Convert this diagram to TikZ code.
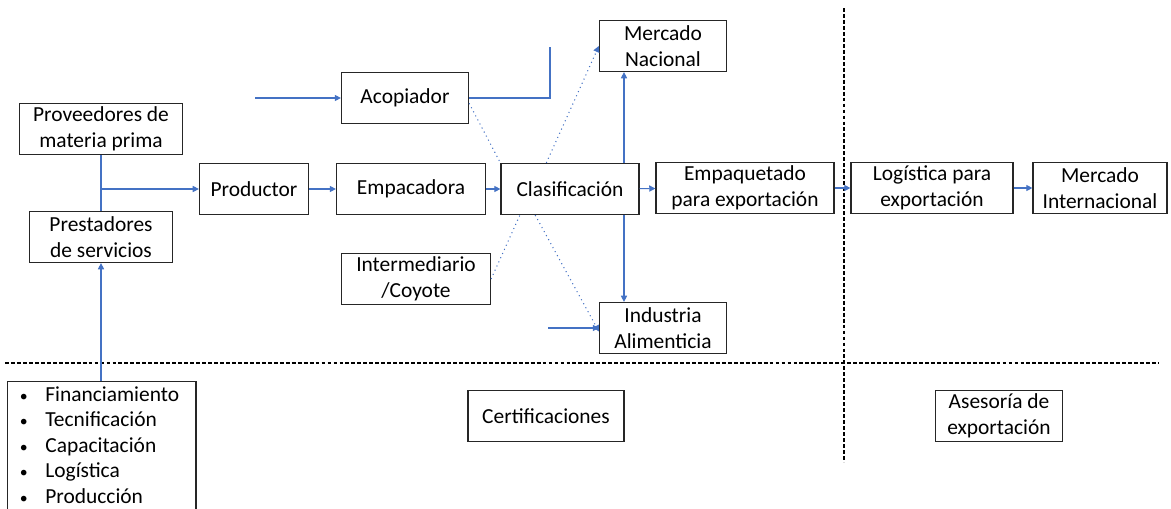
\documentclass[tikz,border=0pt]{standalone}
\usepackage{fontspec}
\setmainfont{Carlito}
\usepackage{xcolor}
\usetikzlibrary{arrows.meta,calc}
\definecolor{flujo}{HTML}{4472C4}

\begin{document}
\begin{tikzpicture}[x=0.02cm,y=-0.02cm,
  font=\fontsize{12.2}{14.5}\selectfont,
  caja/.style={draw=black!85,line width=0.7pt,fill=white,align=center,inner sep=2pt,minimum height=1.02cm},
  flecha/.style={draw=flujo,line width=0.6pt,-{Triangle[length=3.5pt,width=3.5pt]}},
  punteada/.style={flecha,dotted},
  division/.style={draw=black,line width=0.6pt,dash pattern=on 2.2pt off 1.2pt}]
\clip (0,0) rectangle (1171,508);

\draw[division] (5,363) -- (1158,363);
\draw[division] (844,8) -- (844,462);

\node[caja,minimum width=3.26cm] (prov) at (101,129) {Proveedores de\\materia prima};
\node[caja,minimum width=2.86cm] (prest) at (101,237) {Prestadores\\de servicios};
\node[caja,minimum width=2.18cm] (prod) at (254,189) {Productor};
\node[caja,minimum width=2.54cm] (acop) at (405,98) {Acopiador};
\node[caja,minimum width=2.98cm] (emp) at (411,189) {Empacadora};
\node[caja,minimum width=2.76cm] (clas) at (570,189) {Clasificación};
\node[caja,minimum width=2.98cm] (inter) at (416,279) {Intermediario\\/Coyote};
\node[caja,minimum width=2.54cm] (mnac) at (663,46) {Mercado\\Nacional};
\node[caja,minimum width=2.54cm] (ind) at (663,328) {Industria\\Alimenticia};
\node[caja,minimum width=3.56cm] (empaq) at (745,188) {Empaquetado\\para exportación};
\node[caja,minimum width=3.24cm] (logis) at (932,188) {Logística para\\exportación};
\node[caja,minimum width=2.68cm] (mint) at (1100,188) {Mercado\\Internacional};
\node[caja,minimum width=3.12cm] (cert) at (546,416) {Certificaciones};
\node[caja,minimum width=2.54cm] (ases) at (999,416) {Asesoría de\\exportación};
\node[caja,anchor=north west,text width=3.7cm,minimum height=3cm,align=left,inner sep=1pt] (lista) at (7,381)
  {\begin{tabular}{@{\hspace{6pt}}l@{\hspace{10pt}}l@{}}
   {\small\textbullet} & Financiamiento\\
   {\small\textbullet} & Tecnificación\\
   {\small\textbullet} & Capacitación\\
   {\small\textbullet} & Logística\\
   {\small\textbullet} & Producción\\
   &
   \end{tabular}};

\coordinate (acin) at (255,98);
\coordinate (acfin) at (550,47);
\coordinate (indin) at (548,328);
\coordinate (eje) at (624,0);

\draw[flujo,line width=0.6pt] (prov) -- (prest);
\draw[flujo,line width=0.6pt] (acop.east) -| (acfin);
\path[every edge/.append style={flecha}]
  (prov.south |- prod.west) edge (prod)
  (prest.south |- lista.north) edge (prest.south)
  (acin) edge (acop)
  (prod) edge (emp)
  (emp) edge (clas)
  (clas) edge (empaq)
  (empaq) edge (logis)
  (logis) edge (mint)
  (clas.north -| eje) edge (mnac.south -| eje)
  (clas.south -| eje) edge (ind.north -| eje)
  (indin) edge (ind);
\path[every edge/.append style={punteada}]
  ([yshift=-3pt]acop.east) edge[-] (clas.north west)
  ($(clas.north west)!0.33!(clas.north east)$) edge (mnac.west)
  (inter.east) edge[-] ($(clas.south west)!0.14!(clas.south east)$)
  ($(clas.south west)!0.25!(clas.south east)$) edge ([yshift=-2pt]ind.west);
\end{tikzpicture}
\end{document}
